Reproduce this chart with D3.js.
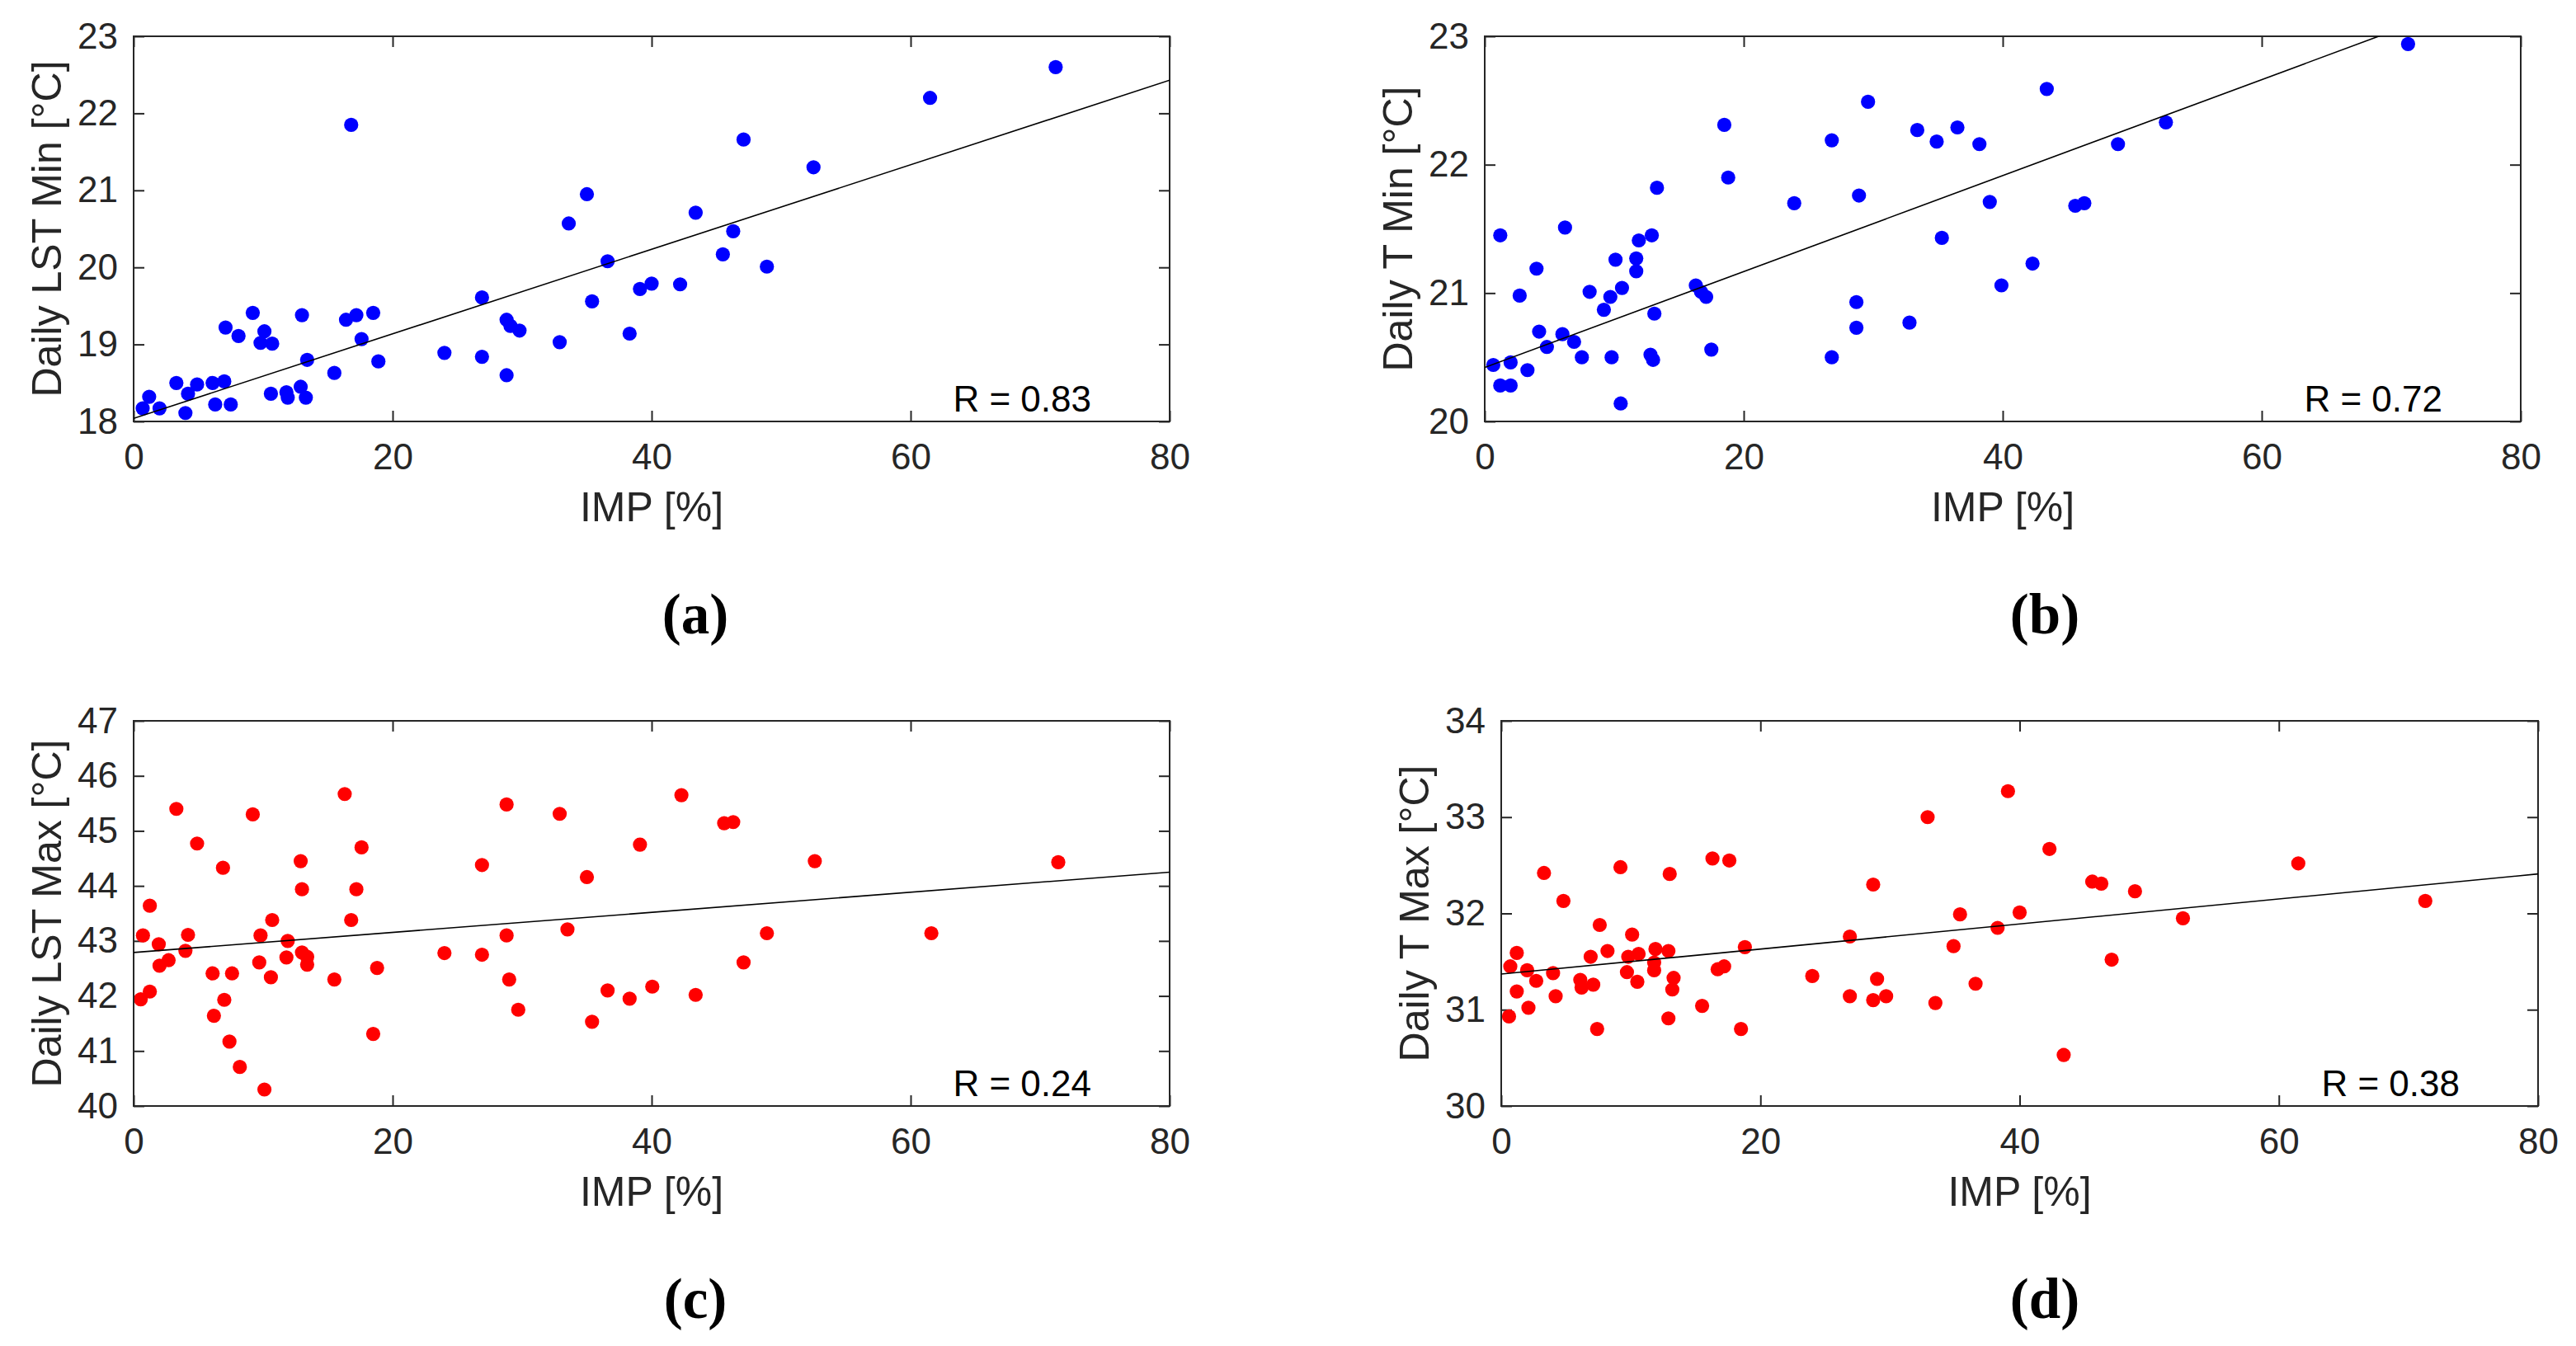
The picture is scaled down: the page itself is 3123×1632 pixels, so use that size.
<!DOCTYPE html>
<html>
<head>
<meta charset="utf-8">
<script src="https://cdn.jsdelivr.net/npm/d3@7"></script>
<style>
  body { margin: 0; background: #fff; }
</style>
</head>
<body>
<script>
// values: [IMP %, temperature °C]
var lstMinPts = [[0.7,18.17],[1.2,18.32],[2.0,18.17],[3.3,18.50],[4.2,18.36],[4.0,18.11],[4.9,18.48],[6.1,18.50],[7.0,18.52],[6.3,18.22],[7.5,18.22],[7.1,19.22],[8.1,19.11],[9.2,19.41],[10.1,19.17],[9.8,19.02],[10.7,19.01],[10.6,18.36],[11.8,18.38],[11.9,18.31],[12.9,18.45],[13.3,18.31],[13.0,19.38],[13.4,18.80],[15.5,18.63],[16.4,19.32],[17.2,19.38],[16.8,21.85],[17.6,19.07],[18.5,19.41],[18.9,18.78],[24.0,18.89],[26.9,19.61],[26.9,18.84],[28.8,19.32],[29.1,19.24],[29.8,19.18],[28.8,18.60],[32.9,19.03],[33.6,20.57],[35.0,20.95],[35.4,19.56],[36.6,20.08],[38.3,19.14],[39.1,19.72],[40.0,19.79],[42.2,19.78],[43.4,20.71],[45.5,20.17],[46.3,20.47],[47.1,21.66],[48.9,20.01],[52.5,21.30],[61.5,22.20],[71.2,22.60]];

var tMinPts = [[0.66,20.44],[1.2,20.28],[2.0,20.28],[2.0,20.46],[1.2,21.45],[3.3,20.40],[2.7,20.98],[4.0,21.19],[4.2,20.70],[4.8,20.58],[6.0,20.68],[6.2,21.51],[6.9,20.62],[7.5,20.50],[8.1,21.01],[9.2,20.87],[9.7,20.97],[9.8,20.50],[10.1,21.26],[10.6,21.04],[10.5,20.14],[11.7,21.27],[11.7,21.17],[11.9,21.41],[12.9,21.45],[13.1,20.84],[13.3,21.82],[12.8,20.52],[13.0,20.48],[16.3,21.06],[16.7,21.01],[17.1,20.97],[17.5,20.56],[18.5,22.31],[18.8,21.90],[23.9,21.70],[26.8,22.19],[26.8,20.50],[28.7,20.93],[28.7,20.73],[28.9,21.76],[29.6,22.49],[32.8,20.77],[33.4,22.27],[34.9,22.18],[35.3,21.43],[36.5,22.29],[38.2,22.16],[39.0,21.71],[39.9,21.06],[42.3,21.23],[43.4,22.59],[45.6,21.68],[46.3,21.70],[48.9,22.16],[52.6,22.33],[71.3,22.94]];

var lstMaxPts = [[0.55,41.94],[1.25,42.08],[0.72,43.10],[1.25,43.64],[1.94,42.94],[2.0,42.55],[2.7,42.65],[3.3,45.40],[4.0,42.82],[4.2,43.11],[4.9,44.77],[6.1,42.41],[6.2,41.64],[6.9,44.33],[7.0,41.93],[7.6,42.41],[7.4,41.17],[8.2,40.71],[9.2,45.30],[9.7,42.61],[9.8,43.10],[10.1,40.30],[10.6,42.34],[10.7,43.38],[11.8,42.70],[11.9,43.00],[12.9,44.45],[13.0,43.94],[13.0,42.79],[13.4,42.57],[13.4,42.71],[15.5,42.30],[16.3,45.67],[16.8,43.38],[17.2,43.94],[17.6,44.70],[18.5,41.31],[18.8,42.51],[24.0,42.78],[26.9,44.38],[26.9,42.75],[28.8,45.48],[28.8,43.10],[29.0,42.30],[29.7,41.75],[32.9,45.31],[33.5,43.21],[35.0,44.16],[35.4,41.53],[36.6,42.10],[38.3,41.95],[39.1,44.75],[40.05,42.17],[42.3,45.65],[43.4,42.02],[45.6,45.14],[46.3,45.16],[47.1,42.61],[48.9,43.14],[52.6,44.45],[61.6,43.14],[71.4,44.43]];

var tMaxPts = [[0.6,30.93],[0.7,31.45],[1.2,31.59],[1.2,31.19],[2.0,31.41],[2.1,31.02],[2.7,31.30],[3.3,32.42],[4.0,31.38],[4.2,31.14],[4.8,32.13],[6.1,31.31],[6.2,31.23],[6.9,31.55],[7.1,31.26],[7.6,31.88],[7.4,30.80],[8.2,31.61],[9.2,32.48],[9.7,31.39],[9.8,31.55],[10.1,31.78],[10.5,31.29],[10.6,31.58],[11.8,31.41],[11.8,31.49],[11.9,31.63],[12.9,31.61],[13.0,32.41],[13.3,31.33],[13.2,31.21],[12.9,30.91],[15.5,31.04],[16.3,32.57],[16.7,31.42],[17.2,31.45],[17.6,32.55],[18.5,30.80],[18.8,31.65],[24.0,31.35],[26.9,31.76],[26.9,31.14],[28.7,32.30],[29.0,31.32],[28.7,31.10],[29.7,31.14],[32.9,33.00],[33.5,31.07],[34.9,31.66],[35.4,31.99],[36.6,31.27],[38.3,31.85],[39.1,33.27],[40.0,32.01],[42.3,32.67],[43.4,30.53],[45.6,32.33],[46.3,32.31],[47.1,31.52],[48.9,32.23],[52.6,31.95],[61.5,32.52],[71.3,32.13]];

// fitted line: value at IMP = 0 and IMP = 80
var lstMinFit = [18.04, 22.43];
var tMinFit = [20.42, 23.41];
var lstMaxFit = [42.79, 44.25];
var tMaxFit = [31.37, 32.41];

var xTicks = [0, 20, 40, 60, 80];
var xDomain = [0, 80];
var lstMinTicks = [18, 19, 20, 21, 22, 23];
var tMinTicks = [20, 21, 22, 23];
var lstMaxTicks = [40, 41, 42, 43, 44, 45, 46, 47];
var tMaxTicks = [30, 31, 32, 33, 34];

var yLabels = ['Daily LST Min [°C]', 'Daily T Min [°C]', 'Daily LST Max [°C]', 'Daily T Max [°C]'];
var rValues = ['0.83', '0.72', '0.24', '0.38'];
var captions = ['(a)', '(b)', '(c)', '(d)'];

var svgWidth = 3123;
var svgHeight = 1632;

// plot boxes and caption centres
var layout = [
    {left: 162, top: 44, width: 1256, height: 467, capX: 843},
    {left: 1800, top: 44, width: 1256, height: 467, capX: 2479},
    {left: 162, top: 874, width: 1256, height: 467, capX: 843},
    {left: 1820, top: 874, width: 1257, height: 467, capX: 2479}
];

var panels = [
    {pts: lstMinPts, fit: lstMinFit, ticks: lstMinTicks, color: '#0000ff'},
    {pts: tMinPts, fit: tMinFit, ticks: tMinTicks, color: '#0000ff'},
    {pts: lstMaxPts, fit: lstMaxFit, ticks: lstMaxTicks, color: '#ff0000'},
    {pts: tMaxPts, fit: tMaxFit, ticks: tMaxTicks, color: '#ff0000'}
];

var axisColor = '#262626';
var sans = '"Liberation Sans", Arial, Helvetica, sans-serif';
var tickLen = 13;
var intFmt = d3.format('d');

var svg = d3.select('body')
    .append('svg')
    .attr('width', svgWidth)
    .attr('height', svgHeight)
    .style('background', '#fff');

panels.forEach(function(p, i) {
    var L = layout[i];
    var g = svg.append('g')
        .attr('transform', `translate(${L.left},${L.top})`);

    var x = d3.scaleLinear().domain(xDomain).range([0, L.width]);
    var yDomain = d3.extent(p.ticks);
    var y = d3.scaleLinear().domain(yDomain).range([L.height, 0]);

    // clip for fit line
    var clipId = 'clip' + i;
    svg.append('clipPath').attr('id', clipId)
        .append('rect')
        .attr('x', L.left).attr('y', L.top)
        .attr('width', L.width).attr('height', L.height);

    // bottom axis with labels
    var xAxis = g.append('g')
        .attr('transform', `translate(0,${L.height})`)
        .call(d3.axisBottom(x).tickValues(xTicks).tickFormat(intFmt)
            .tickSizeInner(-tickLen).tickSizeOuter(0).tickPadding(27));
    // left axis with labels
    var yAxis = g.append('g')
        .call(d3.axisLeft(y).tickValues(p.ticks).tickFormat(intFmt)
            .tickSizeInner(-tickLen).tickSizeOuter(0).tickPadding(19));
    // top and right ticks only
    var topAxis = g.append('g')
        .call(d3.axisTop(x).tickValues(xTicks).tickSizeInner(-tickLen).tickSizeOuter(0).tickFormat(''));
    var rightAxis = g.append('g')
        .attr('transform', `translate(${L.width},0)`)
        .call(d3.axisRight(y).tickValues(p.ticks).tickSizeInner(-tickLen).tickSizeOuter(0).tickFormat(''));

    [xAxis, yAxis, topAxis, rightAxis].forEach(function(a) {
        a.select('.domain').remove();
        a.selectAll('line').attr('stroke', axisColor).attr('stroke-width', 2);
        a.selectAll('text')
            .attr('fill', axisColor)
            .attr('font-family', sans)
            .attr('font-size', 44);
    });

    // points
    g.selectAll('circle')
        .data(p.pts)
        .enter()
        .append('circle')
        .attr('cx', d => x(d[0]))
        .attr('cy', d => y(d[1]))
        .attr('r', 8.6)
        .attr('fill', p.color);

    // regression line
    svg.append('g')
        .attr('clip-path', `url(#${clipId})`)
        .append('line')
        .attr('x1', L.left + x(xDomain[0]))
        .attr('y1', L.top + y(p.fit[0]))
        .attr('x2', L.left + x(xDomain[1]))
        .attr('y2', L.top + y(p.fit[1]))
        .attr('stroke', '#000')
        .attr('stroke-width', 1.6);

    // box
    g.append('rect')
        .attr('width', L.width)
        .attr('height', L.height)
        .attr('fill', 'none')
        .attr('stroke', axisColor)
        .attr('stroke-width', 2);

    // R label
    g.append('text')
        .attr('x', L.width - 95)
        .attr('y', L.height - 12)
        .attr('text-anchor', 'end')
        .attr('font-family', sans)
        .attr('font-size', 44)
        .attr('fill', '#000')
        .text('R = ' + rValues[i]);

    // x axis label
    g.append('text')
        .attr('x', L.width / 2)
        .attr('y', L.height + 121)
        .attr('text-anchor', 'middle')
        .attr('font-family', sans)
        .attr('font-size', 50)
        .attr('fill', axisColor)
        .text('IMP [%]');

    // y axis label
    g.append('text')
        .attr('transform', `translate(-88,${L.height / 2}) rotate(-90)`)
        .attr('text-anchor', 'middle')
        .attr('font-family', sans)
        .attr('font-size', 50)
        .attr('fill', axisColor)
        .text(yLabels[i]);

    // caption
    svg.append('text')
        .attr('x', L.capX)
        .attr('y', L.top + L.height + 257)
        .attr('text-anchor', 'middle')
        .attr('font-family', '"Liberation Serif", "Times New Roman", serif')
        .attr('font-weight', 'bold')
        .attr('font-size', 69)
        .attr('fill', '#000')
        .text(captions[i]);
});
</script>
</body>
</html>
